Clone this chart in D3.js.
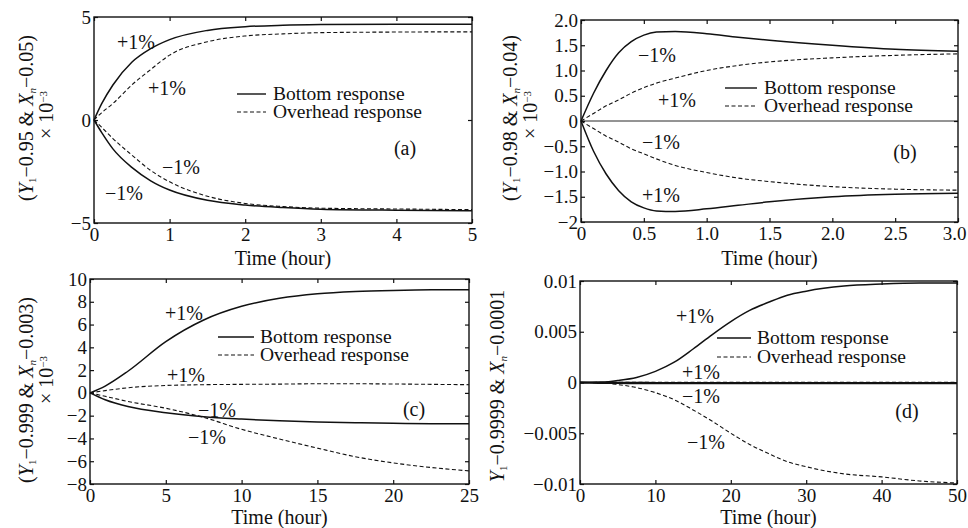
<!DOCTYPE html>
<html>
<head>
<meta charset="utf-8">
<script src="https://cdn.jsdelivr.net/npm/d3@7"></script>
<style>
  body { margin: 0; background: #fff; }
  svg { font-family: "Liberation Serif", "Times New Roman", serif; }
</style>
</head>
<body>
<svg id="chart" width="968" height="528"></svg>
<script>

// ---- data ----

// (a) Y1-0.95 & Xn-0.05, x1e-3
var aTime = [0, 0.1, 0.25, 0.5, 0.75, 1, 1.5, 2, 2.5, 3, 4, 5];
var aBottomPlus = [0, 0.78, 1.7, 2.8, 3.46, 3.9, 4.35, 4.53, 4.6, 4.63, 4.65, 4.65];
var aOverheadPlus = [0, 0.35, 0.8, 1.7, 2.45, 3.15, 3.8, 4.08, 4.18, 4.24, 4.27, 4.28];
var aBottomMinus = [0, -0.6, -1.4, -2.3, -2.95, -3.4, -3.9, -4.13, -4.25, -4.33, -4.38, -4.4];
var aOverheadMinus = [0, -0.35, -0.9, -1.7, -2.45, -3.0, -3.7, -4.05, -4.2, -4.28, -4.32, -4.35];
var aXTicks = [0, 1, 2, 3, 4, 5];
var aXLabels = ["0", "1", "2", "3", "4", "5"];
var aYTicks = [-5, 0, 5];
var aYLabels = ["\u22125", "0", "5"];

// (b) Y1-0.98 & Xn-0.04, x1e-3
var bTime = [0, 0.1, 0.2, 0.3, 0.4, 0.5, 0.6, 0.75, 1.0, 1.25, 1.5, 2.0, 2.5, 3.0];
var bBottomMinus = [0, 0.55, 1.0, 1.35, 1.57, 1.7, 1.76, 1.77, 1.73, 1.66, 1.6, 1.5, 1.42, 1.38];
var bOverheadPlus = [0, 0.15, 0.3, 0.42, 0.55, 0.66, 0.75, 0.85, 1.0, 1.1, 1.17, 1.25, 1.3, 1.33];
var bOverheadMinus = [0, -0.15, -0.3, -0.42, -0.55, -0.65, -0.75, -0.88, -1.02, -1.13, -1.2, -1.3, -1.35, -1.37];
var bBottomPlus = [0, -0.6, -1.05, -1.38, -1.6, -1.72, -1.78, -1.79, -1.74, -1.67, -1.6, -1.5, -1.45, -1.43];
var bXTicks = [0, 0.5, 1.0, 1.5, 2.0, 2.5, 3.0];
var bXLabels = ["0", "0.5", "1.0", "1.5", "2.0", "2.5", "3.0"];
var bYTicks = [-2, -1.5, -1, -0.5, 0, 0.5, 1, 1.5, 2];
var bYLabels = ["\u22122", "\u22121.5", "\u22121.0", "\u22120.5", "0", "0.5", "1.0", "1.5", "2.0"];

// (c) Y1-0.999 & Xn-0.003, x1e-3
var cTime = [0, 1, 2.5, 5, 7.5, 10, 12.5, 15, 17.5, 20, 22.5, 25];
var cBottomPlus = [0, 0.6, 1.9, 4.5, 6.4, 7.6, 8.3, 8.7, 8.9, 9.0, 9.05, 9.05];
var cOverheadPlus = [0, 0.2, 0.45, 0.65, 0.72, 0.75, 0.77, 0.8, 0.8, 0.78, 0.75, 0.72];
var cBottomMinus = [0, -0.6, -1.2, -1.75, -2.1, -2.3, -2.45, -2.55, -2.62, -2.67, -2.7, -2.72];
var cOverheadMinus = [0, -0.3, -0.75, -1.35, -2.15, -3.2, -4.05, -4.85, -5.6, -6.15, -6.55, -6.85];
var cXTicks = [0, 5, 10, 15, 20, 25];
var cXLabels = ["0", "5", "10", "15", "20", "25"];
var cYTicks = [-8, -6, -4, -2, 0, 2, 4, 6, 8, 10];
var cYLabels = ["\u22128", "\u22126", "\u22124", "\u22122", "0", "2", "4", "6", "8", "10"];

// (d) Y1-0.9999 & Xn-0.0001
var dTime = [0, 2.5, 5, 7.5, 10, 12.5, 15, 17.5, 20, 22.5, 25, 27.5, 30, 35, 40, 45, 50];
var dBottomPlus = [0, 0.00002, 0.0002, 0.0005, 0.0011, 0.002, 0.0033, 0.0047, 0.006, 0.0071, 0.0079, 0.0086, 0.009, 0.0095, 0.0097, 0.0098, 0.0098];
var dOverheadPlus = [0, 0.00001, 0.00002, 0.00003, 0.00003, 0.00003, 0.00003, 0.00003, 0.00003, 0.00003, 0.00003, 0.00003, 0.00003, 0.00003, 0.00003, 0.00003, 0.00003];
var dBottomMinus = [0, -0.00002, -0.00004, -0.00005, -0.00006, -0.00006, -0.00006, -0.00006, -0.00006, -0.00006, -0.00006, -0.00006, -0.00006, -0.00006, -0.00006, -0.00006, -0.00006];
var dOverheadMinus = [0, -0.00002, -0.0002, -0.0005, -0.001, -0.0017, -0.0027, -0.0038, -0.005, -0.0061, -0.007, -0.0078, -0.0083, -0.009, -0.0093, -0.0097, -0.0099];
var dXTicks = [0, 10, 20, 30, 40, 50];
var dXLabels = ["0", "10", "20", "30", "40", "50"];
var dYTicks = [-0.01, -0.005, 0, 0.005, 0.01];
var dYLabels = ["\u22120.01", "\u22120.005", "0", "0.005", "0.01"];

var legendNames = ["Bottom response", "Overhead response"];

// ---- panels ----
var panels = [
    {
        left: 94, right: 472, top: 17, bottom: 223,
        xDomain: [0, 5], yDomain: [-5, 5],
        time: aTime,
        series: [
            { values: aBottomPlus, dash: false },
            { values: aOverheadPlus, dash: true },
            { values: aBottomMinus, dash: false },
            { values: aOverheadMinus, dash: true }
        ],
        xTicks: aXTicks, xLabels: aXLabels, yTicks: aYTicks, yLabels: aYLabels,
        notes: [["+1%", 136, 42], ["+1%", 167, 88], ["\u22121%", 181, 167], ["\u22121%", 124, 193]],
        letter: ["(a)", 405, 148],
        legend: { x1: 237, x2: 266, tx: 273, y: 94, gap: 18 },
        yTitle: { a: "0.95", b: "0.05", x1: 26, y1: 118, x2: 46, y2: 115 },
        xTitleY: 265
    },
    {
        left: 581, right: 958, top: 20, bottom: 222,
        xDomain: [0, 3], yDomain: [-2, 2],
        time: bTime,
        zeroLine: true,
        series: [
            { values: bBottomMinus, dash: false },
            { values: bOverheadPlus, dash: true },
            { values: bOverheadMinus, dash: true },
            { values: bBottomPlus, dash: false }
        ],
        xTicks: bXTicks, xLabels: bXLabels, yTicks: bYTicks, yLabels: bYLabels,
        notes: [["\u22121%", 657, 55], ["+1%", 677, 100], ["\u22121%", 661, 142], ["+1%", 661, 195]],
        letter: ["(b)", 905, 152],
        legend: { x1: 725, x2: 757, tx: 764, y: 88, gap: 18 },
        yTitle: { a: "0.98", b: "0.04", x1: 510, y1: 118, x2: 530, y2: 115 },
        xTitleY: 265,
        lastLabelShift: -4
    },
    {
        left: 90, right: 469, top: 279, bottom: 484,
        xDomain: [0, 25], yDomain: [-8, 10],
        time: cTime,
        series: [
            { values: cBottomPlus, dash: false },
            { values: cOverheadPlus, dash: true },
            { values: cBottomMinus, dash: false },
            { values: cOverheadMinus, dash: true }
        ],
        xTicks: cXTicks, xLabels: cXLabels, yTicks: cYTicks, yLabels: cYLabels,
        notes: [["+1%", 184, 313], ["+1%", 186, 375], ["\u22121%", 217, 410], ["\u22121%", 207, 437]],
        letter: ["(c)", 414, 409],
        legend: { x1: 218, x2: 254, tx: 260, y: 337, gap: 18 },
        yTitle: { a: "0.999", b: "0.003", x1: 26, y1: 390, x2: 46, y2: 380 },
        xTitleY: 524
    },
    {
        left: 580, right: 957, top: 281, bottom: 484,
        xDomain: [0, 50], yDomain: [-0.01, 0.01],
        time: dTime,
        series: [
            { values: dBottomPlus, dash: false },
            { values: dOverheadPlus, dash: true },
            { values: dBottomMinus, dash: false, width: 2.4 },
            { values: dOverheadMinus, dash: true }
        ],
        xTicks: dXTicks, xLabels: dXLabels, yTicks: dYTicks, yLabels: dYLabels,
        notes: [["+1%", 695, 316], ["+1%", 701, 372], ["\u22121%", 701, 396], ["\u22121%", 706, 442]],
        letter: ["(d)", 907, 411],
        legend: { x1: 717, x2: 751, tx: 757, y: 338, gap: 19 },
        yTitle: { a: "0.9999", b: "0.0001", x1: 497, y1: 386, single: true },
        xTitleY: 524
    }
];

var svg = d3.select("#chart");

svg.append("rect")
    .attr("width", 968)
    .attr("height", 528)
    .attr("fill", "#fff");

function drawPanel(p) {
    var xScale = d3.scaleLinear().domain(p.xDomain).range([p.left, p.right]);
    var yScale = d3.scaleLinear().domain(p.yDomain).range([p.bottom, p.top]);

    var g = svg.append("g");

    // zero reference line
    if (p.zeroLine) {
        g.append("line")
            .attr("x1", xScale(p.xDomain[0]))
            .attr("x2", xScale(p.xDomain[1]))
            .attr("y1", yScale(0))
            .attr("y2", yScale(0))
            .attr("stroke", "#111")
            .attr("stroke-width", 0.9);
    }

    var line = d3.line()
        .x(function (d) { return xScale(d[0]); })
        .y(function (d) { return yScale(d[1]); })
        .curve(d3.curveMonotoneX);

    p.series.forEach(function (s) {
        var pts = p.time.map(function (t, i) { return [t, s.values[i]]; });
        g.append("path")
            .datum(pts)
            .attr("fill", "none")
            .attr("stroke", "#111")
            .attr("stroke-width", s.width || (s.dash ? 1.1 : 1.5))
            .attr("stroke-dasharray", s.dash ? "4,2.5" : null)
            .attr("d", line);
    });

    // axes, ticks pointing inward on all four sides
    var bottomAxis = d3.axisBottom(xScale)
        .tickValues(p.xTicks)
        .tickFormat(function (d, i) { return p.xLabels[i]; })
        .tickSizeInner(-4).tickSizeOuter(0).tickPadding(5);
    var leftAxis = d3.axisLeft(yScale)
        .tickValues(p.yTicks)
        .tickFormat(function (d, i) { return p.yLabels[i]; })
        .tickSizeInner(-4).tickSizeOuter(0).tickPadding(3);
    var topAxis = d3.axisTop(xScale)
        .tickValues(p.xTicks).tickFormat("")
        .tickSizeInner(-4).tickSizeOuter(0);
    var rightAxis = d3.axisRight(yScale)
        .tickValues(p.yTicks).tickFormat("")
        .tickSizeInner(-4).tickSizeOuter(0);

    var axes = [
        [bottomAxis, "translate(0," + p.bottom + ")"],
        [leftAxis, "translate(" + p.left + ",0)"],
        [topAxis, "translate(0," + p.top + ")"],
        [rightAxis, "translate(" + p.right + ",0)"]
    ];
    axes.forEach(function (a, k) {
        var ag = g.append("g")
            .attr("transform", a[1])
            .call(a[0]);
        ag.select(".domain").remove();
        ag.selectAll("line").attr("stroke", "#111").attr("stroke-width", 1.2);
        ag.selectAll("text")
            .attr("fill", "#111")
            .style("font-family", "'Liberation Serif', 'Times New Roman', serif")
            .style("font-size", "19px");
        // last x label sits on the page edge in (b)
        if (k === 0 && p.lastLabelShift) {
            ag.selectAll(".tick text").filter(function (d, i, n) { return i === n.length - 1; })
                .attr("x", p.lastLabelShift);
        }
    });

    // frame
    g.append("rect")
        .attr("x", p.left)
        .attr("y", p.top)
        .attr("width", p.right - p.left)
        .attr("height", p.bottom - p.top)
        .attr("fill", "none")
        .attr("stroke", "#111")
        .attr("stroke-width", 1.4);

    // +1% / -1% annotations
    g.selectAll(".note")
        .data(p.notes)
        .enter()
        .append("text")
        .attr("class", "note")
        .attr("x", function (d) { return d[1]; })
        .attr("y", function (d) { return d[2]; })
        .attr("dy", "0.35em")
        .attr("text-anchor", "middle")
        .style("font-size", "20px")
        .attr("fill", "#111")
        .text(function (d) { return d[0]; });

    g.append("text")
        .attr("x", p.letter[1])
        .attr("y", p.letter[2])
        .attr("dy", "0.35em")
        .attr("text-anchor", "middle")
        .style("font-size", "20px")
        .attr("fill", "#111")
        .text(p.letter[0]);

    // legend
    legendNames.forEach(function (name, i) {
        var ly = p.legend.y + i * p.legend.gap;
        g.append("line")
            .attr("x1", p.legend.x1)
            .attr("x2", p.legend.x2)
            .attr("y1", ly)
            .attr("y2", ly)
            .attr("stroke", "#111")
            .attr("stroke-width", i === 0 ? 1.4 : 1.1)
            .attr("stroke-dasharray", i === 0 ? null : "4,2.5");
        g.append("text")
            .attr("x", p.legend.tx)
            .attr("y", ly)
            .attr("dy", "0.33em")
            .style("font-size", "19.5px")
            .attr("fill", "#111")
            .text(name);
    });

    // x title
    g.append("text")
        .attr("x", (p.left + p.right) / 2)
        .attr("y", p.xTitleY)
        .attr("text-anchor", "middle")
        .style("font-size", "20px")
        .attr("fill", "#111")
        .text("Time (hour)");

    // y title (rotated, with sub/superscripts)
    var yt = p.yTitle;
    var t1 = g.append("text")
        .attr("transform", "translate(" + yt.x1 + "," + yt.y1 + ") rotate(-90)")
        .attr("text-anchor", "middle")
        .attr("dy", "0.35em")
        .style("font-size", "20px")
        .attr("fill", "#111");
    if (!yt.single) t1.append("tspan").text("(");
    t1.append("tspan").style("font-style", "italic").text("Y");
    t1.append("tspan").attr("dy", 3).style("font-size", "11px").text("1");
    t1.append("tspan").attr("dy", -3).text("\u2212" + yt.a + " & ");
    t1.append("tspan").style("font-style", "italic").text("X");
    t1.append("tspan").attr("dy", 3).style("font-size", "11px").style("font-style", "italic").text("n");
    t1.append("tspan").attr("dy", -3).text("\u2212" + yt.b + (yt.single ? "" : ")"));

    if (!yt.single) {
        var t2 = g.append("text")
            .attr("transform", "translate(" + yt.x2 + "," + yt.y2 + ") rotate(-90)")
            .attr("text-anchor", "middle")
            .attr("dy", "0.35em")
            .style("font-size", "20px")
            .attr("fill", "#111");
        t2.append("tspan").text("\u00d7 10");
        t2.append("tspan").attr("dy", -6).style("font-size", "11px").text("\u22123");
    }
}

panels.forEach(drawPanel);

</script>
</body>
</html>
